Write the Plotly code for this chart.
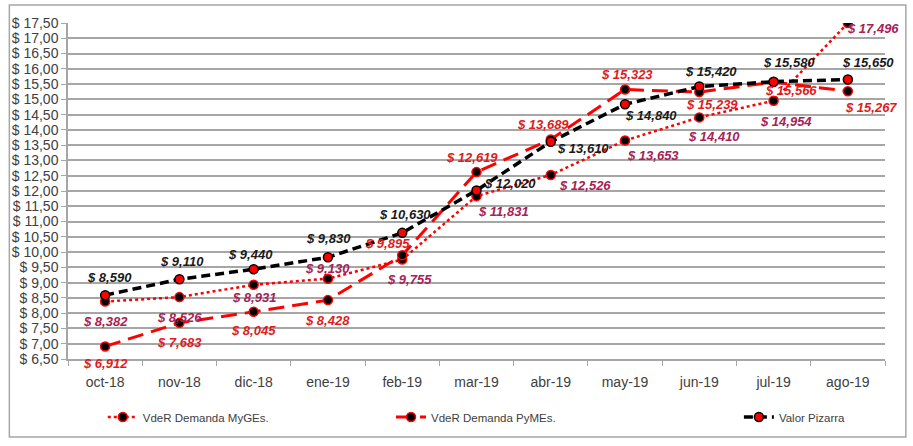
import plotly.graph_objects as go

# ---------------- data ----------------
months = ["oct-18", "nov-18", "dic-18", "ene-19", "feb-19", "mar-19",
          "abr-19", "may-19", "jun-19", "jul-19", "ago-19"]
myges = [8.382, 8.526, 8.931, 9.130, 9.755, 11.831, 12.526, 13.653, 14.410, 14.954, 17.496]
pymes = [6.912, 7.683, 8.045, 8.428, 9.895, 12.619, 13.689, 15.323, 15.239, 15.566, 15.267]
pizarra = [8.590, 9.110, 9.440, 9.830, 10.630, 12.020, 13.610, 14.840, 15.420, 15.580, 15.650]
names = ["VdeR Demanda MyGEs.", "VdeR Demanda PyMEs.", "Valor Pizarra"]

y_tickvals = [6.5, 7.0, 7.5, 8.0, 8.5, 9.0, 9.5, 10.0, 10.5, 11.0, 11.5, 12.0,
              12.5, 13.0, 13.5, 14.0, 14.5, 15.0, 15.5, 16.0, 16.5, 17.0, 17.5]
y_ticktext = ["$ 6,50", "$ 7,00", "$ 7,50", "$ 8,00", "$ 8,50", "$ 9,00", "$ 9,50",
              "$ 10,00", "$ 10,50", "$ 11,00", "$ 11,50", "$ 12,00", "$ 12,50",
              "$ 13,00", "$ 13,50", "$ 14,00", "$ 14,50", "$ 15,00", "$ 15,50",
              "$ 16,00", "$ 16,50", "$ 17,00", "$ 17,50"]

# ---------------- label offsets (pixels: dx right, dy down) ----------------
off_myges = [(0, 20), (0, 20), (0, 13), (0, -10), (7, 20), (27, 15), (34, 11),
             (28, 15), (15, 19), (12, 21), (25, 5)]
off_pymes = [(0, 17), (0, 20), (0, 19), (0, 20), (-15, -12), (-5, -15), (-8, -15),
             (2, -15), (13, 12), (17, 8), (23, 16)]
off_pizarra = [(4, -18), (3, -18), (-3, -15), (1, -19), (3, -18), (33, -7), (32, 7),
               (26, 11), (12, -15), (15, -19), (20, -17)]

RED = "#FF0000"
MAROON = "#A52257"
LBL_RED = "#E01B1B"
BLACK = "#000000"

W, H = 913, 446
ML, MR, MT, MB = 63, 28, 23, 87
PW, PH = W - ML - MR, H - MT - MB


def px_x(px):
    return (px - ML) / PW


def px_y(py):
    return (H - MB - py) / PH


fig = go.Figure()

fig.add_trace(go.Scatter(
    x=months, y=myges, name=names[0], mode="lines+markers",
    line=dict(color=RED, width=2.5, dash="dot"),
    marker=dict(size=9, color=BLACK, line=dict(color=RED, width=1.5)),
    legend="legend"))
fig.add_trace(go.Scatter(
    x=months, y=pymes, name=names[1], mode="lines+markers",
    line=dict(color=RED, width=3, dash="16px,8px"),
    marker=dict(size=9, color=BLACK, line=dict(color=RED, width=1.5)),
    legend="legend2"))
fig.add_trace(go.Scatter(
    x=months, y=pizarra, name=names[2], mode="lines+markers",
    line=dict(color=BLACK, width=3.5, dash="9px,5px"),
    marker=dict(size=9, color=RED, line=dict(color=BLACK, width=1.5)),
    legend="legend3"))

lbl_font = "Liberation Sans, Arial, sans-serif"


def label_text(v):
    # formatting as in the original: 8.590 -> "$ 8,590"
    return "$ " + f"{v:.3f}".replace(".", ",")


for series, offs, col in [(myges, off_myges, MAROON), (pymes, off_pymes, LBL_RED),
                          (pizarra, off_pizarra, "#1A1A1A")]:
    for m, v, (dx, dy) in zip(months, series, offs):
        fig.add_annotation(
            x=m, y=v, text=label_text(v), showarrow=False,
            xshift=dx, yshift=-dy,
            font=dict(family=lbl_font, size=13, color=col, weight="bold", style="italic"))

# outer chart border
fig.add_shape(type="rect", xref="paper", yref="paper",
              x0=px_x(4), x1=px_x(906), y0=px_y(437), y1=px_y(5),
              line=dict(color="#A6A6A6", width=1.5), fillcolor="rgba(0,0,0,0)",
              layer="below")

leg_font = dict(family="Liberation Sans, Arial, sans-serif", size=11.5, color="#404040")
leg_common = dict(orientation="h", yanchor="middle", y=px_y(417), xanchor="left",
                  font=leg_font, bgcolor="rgba(0,0,0,0)", borderwidth=0)

tick_font = dict(family="Liberation Sans, Arial, sans-serif", size=14, color="#404040")

fig.update_layout(
    width=W, height=H,
    margin=dict(l=ML, r=MR, t=MT, b=MB),
    paper_bgcolor="white", plot_bgcolor="white",
    showlegend=True,
    legend=dict(x=px_x(98), **leg_common),
    legend2=dict(x=px_x(388), **leg_common),
    legend3=dict(x=px_x(738), **leg_common),
    xaxis=dict(
        type="category", showgrid=False, showline=True, linecolor="#A6A6A6", linewidth=1.5,
        ticks="outside", tickson="boundaries", ticklen=5, tickcolor="#A6A6A6",
        tickfont=tick_font, ticklabelstandoff=9,
        range=[-0.5, 10.5]),
    yaxis=dict(
        range=[6.5, 17.5], tickvals=y_tickvals, ticktext=y_ticktext,
        showgrid=True, gridcolor="#A6A6A6", gridwidth=1.5,
        showline=True, linecolor="#A6A6A6", linewidth=1.5,
        ticks="outside", ticklen=5, tickcolor="#A6A6A6",
        tickfont=tick_font,
        zeroline=False),
)

fig.write_html("out.html")
